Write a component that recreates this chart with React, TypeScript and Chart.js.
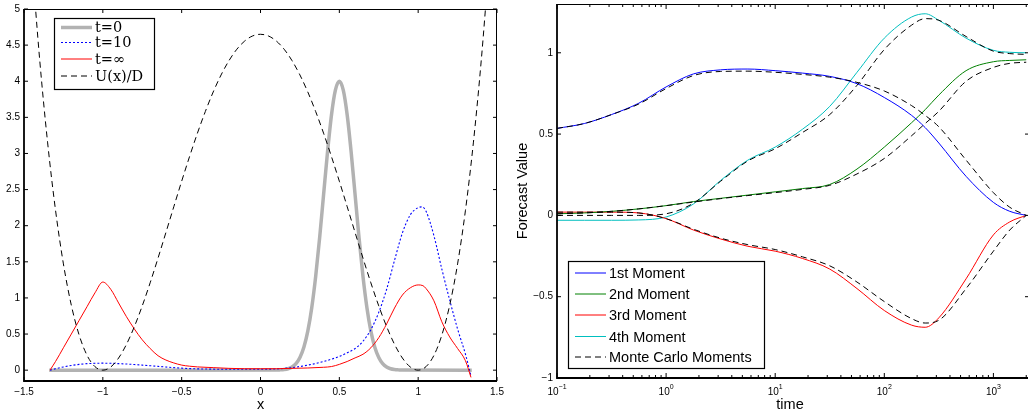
import React, { useEffect, useRef } from "react";
import { Chart, registerables } from "chart.js";
Chart.register(...registerables);

// ---------------- Left panel data ----------------
const T0_X = [-1.34, 0.1, 0.125, 0.15, 0.175, 0.2, 0.225, 0.25, 0.275, 0.3, 0.325, 0.35, 0.375, 0.4, 0.425, 0.45, 0.475, 0.5, 0.525, 0.55, 0.575, 0.6, 0.625, 0.65, 0.675, 0.7, 0.725, 0.75, 0.775, 0.8, 0.825, 0.85, 0.875, 0.9, 1.34];
const T0_Y = [0, 0.001, 0.004, 0.009, 0.02, 0.044, 0.091, 0.176, 0.318, 0.541, 0.865, 1.299, 1.832, 2.426, 3.019, 3.53, 3.877, 4.0, 3.877, 3.53, 3.019, 2.426, 1.832, 1.299, 0.865, 0.541, 0.318, 0.176, 0.091, 0.044, 0.02, 0.009, 0.004, 0.001, 0];

const T10_X = [-1.335, -1.3, -1.25, -1.2, -1.15, -1.1, -1.05, -1.0, -0.95, -0.9, -0.85, -0.8, -0.75, -0.7, -0.65, -0.6, -0.55, -0.5, -0.45, -0.4, -0.3, -0.2, -0.1, 0, 0.1, 0.2, 0.3, 0.4, 0.5, 0.55, 0.6, 0.65, 0.7, 0.75, 0.8, 0.85, 0.9, 0.95, 1.0, 1.025, 1.05, 1.1, 1.15, 1.2, 1.25, 1.3, 1.335];
const T10_Y = [0, 0.02, 0.045, 0.065, 0.08, 0.09, 0.095, 0.097, 0.095, 0.09, 0.085, 0.078, 0.07, 0.062, 0.053, 0.044, 0.035, 0.028, 0.022, 0.018, 0.014, 0.012, 0.012, 0.013, 0.017, 0.035, 0.07, 0.12, 0.19, 0.24, 0.3, 0.4, 0.56, 0.8, 1.12, 1.52, 1.9, 2.15, 2.25, 2.26, 2.2, 1.86, 1.4, 0.97, 0.57, 0.22, -0.08];

const TINF_X = [-1.335, -1.3, -1.25, -1.2, -1.15, -1.1, -1.05, -1.0, -0.95, -0.9, -0.85, -0.8, -0.75, -0.7, -0.65, -0.6, -0.55, -0.5, -0.45, -0.4, -0.3, -0.2, -0.1, 0, 0.1, 0.2, 0.3, 0.4, 0.45, 0.5, 0.55, 0.6, 0.65, 0.7, 0.75, 0.8, 0.85, 0.9, 0.95, 1.0, 1.03, 1.05, 1.1, 1.15, 1.2, 1.25, 1.3, 1.335];
const TINF_Y = [0, 0.12, 0.31, 0.5, 0.69, 0.88, 1.07, 1.22, 1.12, 0.93, 0.74, 0.57, 0.42, 0.3, 0.2, 0.14, 0.1, 0.07, 0.055, 0.045, 0.035, 0.025, 0.02, 0.02, 0.02, 0.025, 0.03, 0.04, 0.05, 0.08, 0.12, 0.17, 0.22, 0.31, 0.45, 0.64, 0.86, 1.04, 1.14, 1.18, 1.17, 1.13, 0.96, 0.67, 0.46, 0.3, 0.13, -0.1];

const U_X = [-1.45, -1.4, -1.35, -1.3, -1.25, -1.2, -1.15, -1.1, -1.05, -1.0, -0.95, -0.9, -0.85, -0.8, -0.75, -0.7, -0.65, -0.6, -0.55, -0.5, -0.45, -0.4, -0.35, -0.3, -0.25, -0.2, -0.15, -0.1, -0.05, 0, 0.05, 0.1, 0.15, 0.2, 0.25, 0.3, 0.35, 0.4, 0.45, 0.5, 0.55, 0.6, 0.65, 0.7, 0.75, 0.8, 0.85, 0.9, 0.95, 1.0, 1.05, 1.1, 1.15, 1.2, 1.25, 1.3, 1.35, 1.4, 1.45];
const U_Y = [5.652, 4.285, 3.146, 2.214, 1.471, 0.9, 0.484, 0.205, 0.049, 0, 0.044, 0.168, 0.358, 0.603, 0.89, 1.209, 1.551, 1.905, 2.262, 2.616, 2.957, 3.281, 3.58, 3.851, 4.087, 4.285, 4.443, 4.557, 4.627, 4.65, 4.627, 4.557, 4.443, 4.285, 4.087, 3.851, 3.58, 3.281, 2.957, 2.616, 2.262, 1.905, 1.551, 1.209, 0.89, 0.603, 0.358, 0.168, 0.044, 0, 0.049, 0.205, 0.484, 0.9, 1.471, 2.214, 3.146, 4.285, 5.652];

const LEFT_X_TICKS = [-1.5, -1, -0.5, 0, 0.5, 1, 1.5];
const LEFT_Y_TICKS = [0, 0.5, 1, 1.5, 2, 2.5, 3, 3.5, 4, 4.5, 5];
const LEFT_LABELS = ["t=0", "t=10", "t=\u221E", "U(x)/D"];

// ---------------- Right panel data ----------------
const TIME = [0.1, 0.178, 0.316, 0.562, 1, 1.78, 3.16, 5.62, 10, 17.8, 31.6, 56.2, 100, 178, 237, 316, 562, 1000, 1413, 2000];
const M1 = [0.535, 0.565, 0.62, 0.69, 0.79, 0.87, 0.895, 0.9, 0.89, 0.875, 0.855, 0.81, 0.725, 0.615, 0.54, 0.445, 0.24, 0.08, 0.025, 0.0];
const MC1 = [0.535, 0.565, 0.62, 0.685, 0.78, 0.86, 0.885, 0.887, 0.88, 0.867, 0.85, 0.818, 0.765, 0.675, 0.615, 0.545, 0.34, 0.14, 0.05, 0.0];
const M2 = [0.01, 0.015, 0.025, 0.04, 0.06, 0.085, 0.105, 0.125, 0.145, 0.165, 0.19, 0.285, 0.42, 0.57, 0.65, 0.74, 0.89, 0.945, 0.953, 0.957];
const MC2 = [0.01, 0.015, 0.025, 0.04, 0.06, 0.082, 0.103, 0.122, 0.14, 0.16, 0.185, 0.255, 0.35, 0.49, 0.565, 0.64, 0.825, 0.91, 0.935, 0.942];
const M3 = [0.02, 0.02, 0.02, 0.015, -0.02, -0.09, -0.145, -0.19, -0.22, -0.265, -0.33, -0.45, -0.585, -0.675, -0.688, -0.63, -0.39, -0.12, -0.04, 0.0];
const MC3 = [0.02, 0.02, 0.02, 0.015, -0.02, -0.085, -0.14, -0.18, -0.21, -0.255, -0.31, -0.41, -0.53, -0.635, -0.662, -0.645, -0.45, -0.22, -0.09, 0.0];
const M4 = [-0.03, -0.03, -0.03, -0.028, -0.01, 0.07, 0.215, 0.34, 0.42, 0.53, 0.67, 0.88, 1.09, 1.22, 1.24, 1.2, 1.09, 1.015, 1.003, 1.0];
const MC4 = [0.0, 0.0, 0.0, 0.0, 0.01, 0.075, 0.21, 0.335, 0.41, 0.51, 0.62, 0.8, 1.02, 1.17, 1.21, 1.2, 1.1, 1.01, 0.995, 0.99];

const RIGHT_Y_TICKS = [-1, -0.5, 0, 0.5, 1];
const RIGHT_DECADES = [-1, 0, 1, 2, 3];
const RIGHT_LABELS = ["1st Moment", "2nd Moment", "3rd Moment", "4th Moment", "Monte Carlo Moments"];

const SANS = "'Liberation Sans', Arial, Helvetica, sans-serif";
const SERIF = "'DejaVu Serif', 'Liberation Serif', serif";

const fmt = (v: number) => {
  const r = Math.round(v * 100) / 100;
  return r < 0 ? "\u2212" + String(-r) : String(r);
};
const pts = (xs: number[], ys: number[]) => xs.map((x, i) => ({ x, y: ys[i] }));

type Leg = { label: string; color: string; width: number; dash: number[] };

function line(ctx: CanvasRenderingContext2D, x0: number, y0: number, x1: number, y1: number) {
  ctx.beginPath();
  ctx.moveTo(x0, y0);
  ctx.lineTo(x1, y1);
  ctx.stroke();
}

function drawBox(ctx: CanvasRenderingContext2D, a: any) {
  ctx.setLineDash([]);
  ctx.strokeStyle = "#000";
  ctx.lineWidth = 1;
  line(ctx, a.left, a.top + 0.5, a.right, a.top + 0.5);
  line(ctx, a.right - 0.5, a.top, a.right - 0.5, a.bottom);
  ctx.lineWidth = 1.8;
  line(ctx, a.left, a.bottom, a.right, a.bottom);
  line(ctx, a.left, a.top, a.left, a.bottom + 0.9);
}

function drawLegend(
  ctx: CanvasRenderingContext2D,
  box: [number, number, number, number],
  items: Leg[],
  ys: number[],
  lx0: number,
  lx1: number,
  tx: number,
  font: string
) {
  const [x0, y0, x1, y1] = box;
  ctx.setLineDash([]);
  ctx.fillStyle = "#fff";
  ctx.fillRect(x0, y0, x1 - x0, y1 - y0);
  ctx.strokeStyle = "#000";
  ctx.lineWidth = 1.2;
  ctx.strokeRect(x0 + 0.5, y0 + 0.5, x1 - x0, y1 - y0);
  items.forEach((it, i) => {
    ctx.strokeStyle = it.color;
    ctx.lineWidth = it.width;
    ctx.setLineDash(it.dash);
    line(ctx, lx0, ys[i], lx1, ys[i]);
    ctx.setLineDash([]);
    ctx.fillStyle = "#000";
    ctx.font = font;
    ctx.textAlign = "left";
    ctx.textBaseline = "middle";
    ctx.fillText(it.label, tx, ys[i] + 1);
  });
}

const leftPlugin = {
  id: "leftAxes",
  afterDatasetsDraw(chart: any) {
    const { ctx, chartArea: a, scales } = chart;
    const xs = scales.x, ys = scales.y;
    ctx.save();
    ctx.strokeStyle = "#000";
    ctx.lineWidth = 1;
    ctx.setLineDash([]);
    const len = 4;
    LEFT_X_TICKS.forEach((v) => {
      const p = xs.getPixelForValue(v);
      line(ctx, p, a.bottom, p, a.bottom - len);
      line(ctx, p, a.top, p, a.top + len);
    });
    LEFT_Y_TICKS.forEach((v) => {
      const p = ys.getPixelForValue(v);
      line(ctx, a.left, p, a.left + len, p);
      line(ctx, a.right, p, a.right - len, p);
    });
    drawBox(ctx, a);
    ctx.fillStyle = "#000";
    ctx.font = `14.5px ${SANS}`;
    ctx.textAlign = "center";
    ctx.textBaseline = "alphabetic";
    ctx.fillText("x", (a.left + a.right) / 2, 409);
    const items: Leg[] = [
      { label: LEFT_LABELS[0], color: "rgb(178,178,178)", width: 3.5, dash: [] },
      { label: LEFT_LABELS[1], color: "#0000ff", width: 1, dash: [2, 2] },
      { label: LEFT_LABELS[2], color: "#ff0000", width: 1, dash: [] },
      { label: LEFT_LABELS[3], color: "#000", width: 1, dash: [6, 4] },
    ];
    drawLegend(ctx, [54, 18, 154, 89], items, [27.5, 42.5, 59, 76], 61, 92, 95, `14.5px ${SERIF}`);
    ctx.restore();
  },
};

const rightPlugin = {
  id: "rightAxes",
  afterDatasetsDraw(chart: any) {
    const { ctx, chartArea: a, scales } = chart;
    const xs = scales.x, ys = scales.y;
    ctx.save();
    ctx.strokeStyle = "#000";
    ctx.lineWidth = 1;
    ctx.setLineDash([]);
    RIGHT_DECADES.forEach((d) => {
      const base = Math.pow(10, d);
      const p = xs.getPixelForValue(base);
      line(ctx, p, a.bottom, p, a.bottom - 5);
      line(ctx, p, a.top, p, a.top + 5);
      for (let k = 2; k <= 9; k++) {
        const v = base * k;
        const q = xs.getPixelForValue(v);
        if (q > a.right) break;
        line(ctx, q, a.bottom, q, a.bottom - 3);
        line(ctx, q, a.top, q, a.top + 3);
      }
    });
    RIGHT_Y_TICKS.forEach((v) => {
      const p = ys.getPixelForValue(v);
      line(ctx, a.left, p, a.left + 4, p);
      line(ctx, a.right, p, a.right - 4, p);
    });
    drawBox(ctx, a);
    // log tick labels 10^d
    ctx.fillStyle = "#000";
    ctx.textBaseline = "alphabetic";
    ctx.textAlign = "left";
    RIGHT_DECADES.forEach((d) => {
      const p = xs.getPixelForValue(Math.pow(10, d));
      const e = d < 0 ? "\u2212" + String(-d) : String(d);
      ctx.font = `10px ${SANS}`;
      const w1 = ctx.measureText("10").width;
      ctx.font = `7px ${SANS}`;
      const w2 = ctx.measureText(e).width;
      const s = p - (w1 + w2) / 2;
      ctx.font = `10px ${SANS}`;
      ctx.fillText("10", s, 394.5);
      ctx.font = `7px ${SANS}`;
      ctx.fillText(e, s + w1, 388.5);
    });
    ctx.font = `14.5px ${SANS}`;
    ctx.textAlign = "center";
    ctx.fillText("time", (a.left + a.right) / 2 - 3, 409);
    ctx.save();
    ctx.translate(26.5, (a.top + a.bottom) / 2);
    ctx.rotate(-Math.PI / 2);
    ctx.fillText("Forecast Value", 0, 0);
    ctx.restore();
    const items: Leg[] = [
      { label: RIGHT_LABELS[0], color: "#0000ff", width: 1, dash: [] },
      { label: RIGHT_LABELS[1], color: "#008000", width: 1, dash: [] },
      { label: RIGHT_LABELS[2], color: "#ff0000", width: 1, dash: [] },
      { label: RIGHT_LABELS[3], color: "#00bfbf", width: 1, dash: [] },
      { label: RIGHT_LABELS[4], color: "#000", width: 1, dash: [6, 4] },
    ];
    drawLegend(ctx, [68, 261, 264, 368], items, [273, 294, 315, 336.5, 357], 75, 106, 109, `14.5px ${SANS}`);
    ctx.restore();
  },
};

const setTicks = (vals: number[]) => (s: any) => {
  s.ticks = vals.map((v) => ({ value: v }));
};

export default function App() {
  const leftRef = useRef<HTMLCanvasElement>(null);
  const rightRef = useRef<HTMLCanvasElement>(null);

  useEffect(() => {
    const lineDs = (label: string, data: any[], color: string, width: number, dash: number[]) => ({
      label,
      data,
      borderColor: color,
      backgroundColor: color,
      borderWidth: width,
      borderDash: dash,
      pointRadius: 0,
      fill: false,
      cubicInterpolationMode: "monotone" as const,
    });

    const c1 = new Chart(leftRef.current!, {
      type: "line",
      data: {
        datasets: [
          lineDs(LEFT_LABELS[3], pts(U_X, U_Y), "#000", 1, [6, 4]),
          lineDs(LEFT_LABELS[2], pts(TINF_X, TINF_Y), "#ff0000", 1, []),
          lineDs(LEFT_LABELS[1], pts(T10_X, T10_Y), "#0000ff", 1.1, [2, 2]),
          lineDs(LEFT_LABELS[0], pts(T0_X, T0_Y), "rgb(178,178,178)", 3.5, []),
        ],
      },
      options: {
        responsive: false,
        animation: false,
        devicePixelRatio: 1,
        events: [],
        layout: { padding: { left: 0, right: 23, top: 9, bottom: 0 } },
        plugins: { legend: { display: false }, tooltip: { enabled: false } },
        scales: {
          x: {
            type: "linear",
            min: -1.5,
            max: 1.5,
            grid: { display: false, drawTicks: false },
            border: { display: false },
            ticks: { autoSkip: false, maxRotation: 0, padding: 5, color: "#000", font: { family: SANS, size: 10 }, callback: (v: any) => fmt(Number(v)) },
            afterBuildTicks: setTicks(LEFT_X_TICKS),
            afterFit: (s: any) => { s.height = 33; s.paddingLeft = 0; s.paddingRight = 0; },
          },
          y: {
            type: "linear",
            min: -0.15,
            max: 5,
            grid: { display: false, drawTicks: false },
            border: { display: false },
            ticks: { autoSkip: false, padding: 4, color: "#000", font: { family: SANS, size: 10 }, callback: (v: any) => fmt(Number(v)) },
            afterBuildTicks: setTicks(LEFT_Y_TICKS),
            afterFit: (s: any) => { s.width = 24; s.paddingTop = 0; s.paddingBottom = 0; },
          },
        },
      } as any,
      plugins: [leftPlugin],
    });

    const c2 = new Chart(rightRef.current!, {
      type: "line",
      data: {
        datasets: [
          lineDs("MC1", pts(TIME, MC1), "#000", 1, [6, 4]),
          lineDs("MC2", pts(TIME, MC2), "#000", 1, [6, 4]),
          lineDs("MC3", pts(TIME, MC3), "#000", 1, [6, 4]),
          lineDs("MC4", pts(TIME, MC4), "#000", 1, [6, 4]),
          lineDs(RIGHT_LABELS[0], pts(TIME, M1), "#0000ff", 1, []),
          lineDs(RIGHT_LABELS[1], pts(TIME, M2), "#008000", 1, []),
          lineDs(RIGHT_LABELS[2], pts(TIME, M3), "#ff0000", 1, []),
          lineDs(RIGHT_LABELS[3], pts(TIME, M4), "#00bfbf", 1, []),
        ],
      },
      options: {
        responsive: false,
        animation: false,
        devicePixelRatio: 1,
        events: [],
        layout: { padding: { left: 0, right: 11, top: 4, bottom: 0 } },
        plugins: { legend: { display: false }, tooltip: { enabled: false } },
        scales: {
          x: {
            type: "logarithmic",
            min: 0.1,
            max: 2120,
            grid: { display: false, drawTicks: false },
            border: { display: false },
            ticks: { display: false },
            afterFit: (s: any) => { s.height = 36; s.paddingLeft = 0; s.paddingRight = 0; },
          },
          y: {
            type: "linear",
            min: -1,
            max: 1.3,
            grid: { display: false, drawTicks: false },
            border: { display: false },
            ticks: { autoSkip: false, padding: 4, color: "#000", font: { family: SANS, size: 10 }, callback: (v: any) => fmt(Number(v)) },
            afterBuildTicks: setTicks(RIGHT_Y_TICKS),
            afterFit: (s: any) => { s.width = 57; s.paddingTop = 0; s.paddingBottom = 0; },
          },
        },
      } as any,
      plugins: [rightPlugin],
    });

    return () => {
      c1.destroy();
      c2.destroy();
    };
  }, []);

  return (
    <div style={{ position: "fixed", left: 0, top: 0, width: 1028, height: 414, overflow: "hidden", background: "#fff" }}>
      <canvas ref={leftRef} width={520} height={414} style={{ position: "absolute", left: 0, top: 0, width: 520, height: 414 }} />
      <canvas ref={rightRef} width={540} height={414} style={{ position: "absolute", left: 500, top: 0, width: 540, height: 414 }} />
    </div>
  );
}
